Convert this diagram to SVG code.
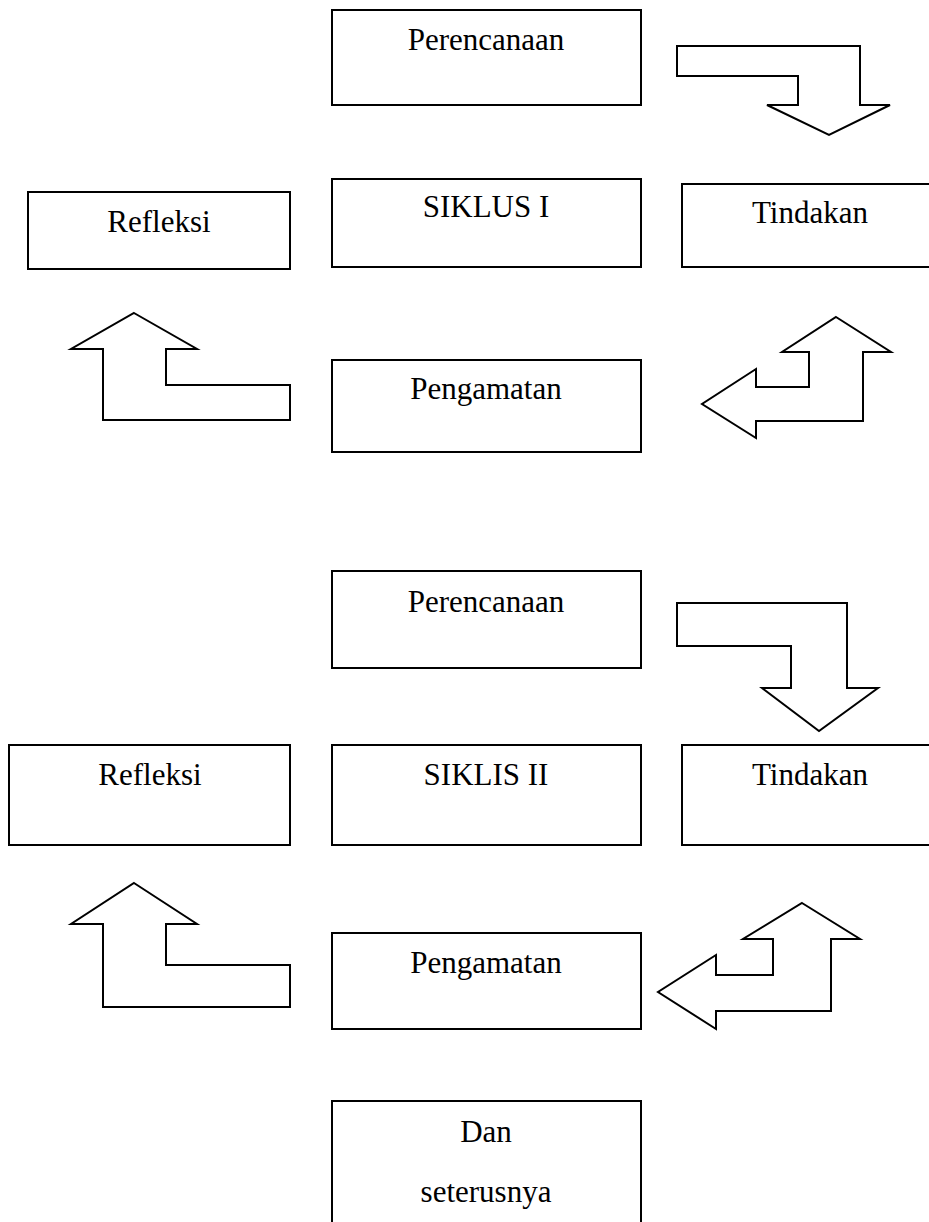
<svg xmlns="http://www.w3.org/2000/svg" width="929" height="1222" viewBox="0 0 929 1222">
<style>
.box{fill:#fff;stroke:#000;stroke-width:2}
.arr{fill:#fff;stroke:#000;stroke-width:2;stroke-linejoin:miter}
.t{font-family:"Liberation Serif","Times New Roman",serif;font-size:31px;fill:#000;text-anchor:middle}
</style>
<rect width="929" height="1222" fill="#fff"/>
<g id="connectors">
<polygon class="arr" points="677,46 860,46 860,105 890,105 829,135 767,105 798,105 798,76 677,76"/>
<polygon class="arr" points="134,313 197,349 166,349 166,385 290,385 290,420 103,420 103,349 71,349"/>
<polygon class="arr" points="836,317 891,352 863,352 863,421 756,421 756,438 702,404 756,369 756,387 809,387 809,352 782,352"/>
<polygon class="arr" points="677,603 847,603 847,688 878,688 819,731 762,688 791,688 791,646 677,646"/>
<polygon class="arr" points="134,883 197,924 166,924 166,965 290,965 290,1007 103,1007 103,924 71,924"/>
<polygon class="arr" points="802,903 860,939 831,939 831,1011 716,1011 716,1029 658,992 716,955 716,975 773,975 773,939 743,939"/>
</g>
<g id="perencanaan1"><rect class="box" x="332" y="10" width="309" height="95"/><text class="t" x="486" y="50">Perencanaan</text></g>
<g id="siklus1"><rect class="box" x="332" y="179" width="309" height="88"/><text class="t" x="486" y="217">SIKLUS I</text></g>
<g id="tindakan1"><rect class="box" x="682" y="184" width="260" height="83"/><text class="t" x="810" y="223">Tindakan</text></g>
<g id="refleksi1"><rect class="box" x="28" y="192" width="262" height="77"/><text class="t" x="159" y="232">Refleksi</text></g>
<g id="pengamatan1"><rect class="box" x="332" y="360" width="309" height="92"/><text class="t" x="486" y="399">Pengamatan</text></g>
<g id="perencanaan2"><rect class="box" x="332" y="571" width="309" height="97"/><text class="t" x="486" y="612">Perencanaan</text></g>
<g id="siklus2"><rect class="box" x="332" y="745" width="309" height="100"/><text class="t" x="486" y="785">SIKLIS II</text></g>
<g id="tindakan2"><rect class="box" x="682" y="745" width="260" height="100"/><text class="t" x="810" y="785">Tindakan</text></g>
<g id="refleksi2"><rect class="box" x="9" y="745" width="281" height="100"/><text class="t" x="150" y="785">Refleksi</text></g>
<g id="pengamatan2"><rect class="box" x="332" y="933" width="309" height="96"/><text class="t" x="486" y="973">Pengamatan</text></g>
<g id="dan"><rect class="box" x="332" y="1101" width="309" height="140"/><text class="t" x="486" y="1142">Dan</text><text class="t" x="486" y="1202">seterusnya</text></g>
</svg>
